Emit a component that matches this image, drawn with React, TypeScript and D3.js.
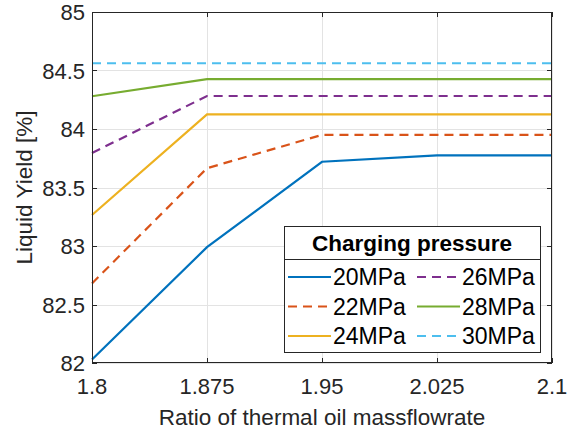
import React, { useEffect, useRef } from 'react';
import * as d3 from 'd3';

// data
const ratios = [1.8, 1.875, 1.95, 2.025, 2.1];
const yield20 = [82.03, 82.99, 83.72, 83.775, 83.775];
const yield22 = [82.68, 83.665, 83.95, 83.95, 83.95];
const yield24 = [83.265, 84.125, 84.125, 84.125, 84.125];
const yield26 = [83.795, 84.282, 84.282, 84.282, 84.282];
const yield28 = [84.28, 84.427, 84.427, 84.427, 84.427];
const yield30 = [84.562, 84.562, 84.562, 84.562, 84.562];
const seriesNames = ['20MPa', '22MPa', '24MPa', '26MPa', '28MPa', '30MPa'];
const xTicks = [1.8, 1.875, 1.95, 2.025, 2.1];
const yTicks = [82, 82.5, 83, 83.5, 84, 84.5, 85];

const colors = ['#0072BD', '#D95319', '#EDB120', '#7E2F8E', '#77AC30', '#4DBEEE'];
const dashed = [false, true, false, true, false, true];

const App: React.FC = () => {
  const svgRef = useRef<SVGSVGElement>(null);

  useEffect(() => {
    const W = 573, H = 432;
    const m = { left: 92, right: 21, top: 12, bottom: 69 };
    const font = 'Arial, "Liberation Sans", Helvetica, sans-serif';
    const axisCol = '#262626';
    const allSeries = [yield20, yield22, yield24, yield26, yield28, yield30];

    const svg = d3.select(svgRef.current).attr('width', W).attr('height', H);
    svg.html('');
    svg.append('rect').attr('width', W).attr('height', H).attr('fill', '#fff');

    const x = d3.scaleLinear().domain([1.8, 2.1]).range([m.left, W - m.right]);
    const y = d3.scaleLinear().domain([82, 85]).range([H - m.bottom, m.top]);
    const [x0, x1] = x.range();
    const [y0, y1] = y.range();

    // grid
    const grid = svg.append('g').attr('stroke', '#e3e3e3').attr('stroke-width', 1);
    grid.selectAll('line.gx').data(xTicks).enter().append('line')
      .attr('x1', d => Math.round(x(d)) + 0.5).attr('x2', d => Math.round(x(d)) + 0.5)
      .attr('y1', y1).attr('y2', y0);
    grid.selectAll('line.gy').data(yTicks).enter().append('line')
      .attr('y1', d => Math.round(y(d)) + 0.5).attr('y2', d => Math.round(y(d)) + 0.5)
      .attr('x1', x0).attr('x2', x1);

    // lines
    const line = d3.line<number>().x((_, i) => x(ratios[i])).y(d => y(d));
    allSeries.forEach((s, i) => {
      svg.append('path')
        .attr('d', line(s)!)
        .attr('fill', 'none')
        .attr('stroke', colors[i])
        .attr('stroke-width', 2.2)
        .attr('stroke-dasharray', dashed[i] ? '9,6' : null);
    });

    // axes box + ticks
    const ax = svg.append('g').attr('stroke', axisCol).attr('stroke-width', 1).attr('fill', 'none');
    ax.append('rect').attr('x', x0 + 0.5).attr('y', y1 + 0.5)
      .attr('width', x1 - x0 - 1).attr('height', y0 - y1 - 1);
    const tl = 5;
    xTicks.forEach(t => {
      const px = Math.round(x(t)) + 0.5;
      ax.append('line').attr('x1', px).attr('x2', px).attr('y1', y0).attr('y2', y0 - tl);
      ax.append('line').attr('x1', px).attr('x2', px).attr('y1', y1).attr('y2', y1 + tl);
    });
    yTicks.forEach(t => {
      const py = Math.round(y(t)) + 0.5;
      ax.append('line').attr('y1', py).attr('y2', py).attr('x1', x0).attr('x2', x0 + tl);
      ax.append('line').attr('y1', py).attr('y2', py).attr('x1', x1).attr('x2', x1 - tl);
    });

    const lbl = svg.append('g').attr('font-family', font).attr('fill', axisCol).attr('font-size', 22);
    lbl.selectAll('text.xt').data(xTicks).enter().append('text')
      .attr('x', d => x(d)).attr('y', y0 + 31).attr('text-anchor', 'middle')
      .text(d => String(d));
    lbl.selectAll('text.yt').data(yTicks).enter().append('text')
      .attr('x', x0 - 7).attr('y', d => y(d) + 8).attr('text-anchor', 'end')
      .text(d => String(d));

    svg.append('text')
      .attr('x', (x0 + x1) / 2).attr('y', 425).attr('text-anchor', 'middle')
      .attr('font-family', font).attr('font-size', 22.5).attr('fill', axisCol)
      .text('Ratio of thermal oil massflowrate');
    svg.append('text')
      .attr('transform', `translate(32,${(y0 + y1) / 2}) rotate(-90)`)
      .attr('text-anchor', 'middle')
      .attr('font-family', font).attr('font-size', 22.5).attr('fill', axisCol)
      .text('Liquid Yield [%]');

    // legend
    const lg = svg.append('g');
    const lx = 284, ly = 226, lw = 256, lh = 126;
    lg.append('rect').attr('x', lx + 0.5).attr('y', ly + 0.5).attr('width', lw).attr('height', lh)
      .attr('fill', '#fff').attr('stroke', axisCol).attr('stroke-width', 1);
    lg.append('line').attr('x1', lx).attr('x2', lx + lw).attr('y1', 259.5).attr('y2', 259.5)
      .attr('stroke', axisCol).attr('stroke-width', 1);
    lg.append('text').attr('x', lx + lw / 2).attr('y', 251).attr('text-anchor', 'middle')
      .attr('font-family', font).attr('font-weight', 'bold').attr('font-size', 22.5).attr('fill', '#000')
      .text('Charging pressure');
    seriesNames.forEach((name, i) => {
      const col = Math.floor(i / 3), row = i % 3;
      const sx = col === 0 ? 288 : 417;
      const sy = 277 + row * 29.5;
      lg.append('line').attr('x1', sx).attr('x2', sx + 43).attr('y1', sy).attr('y2', sy)
        .attr('stroke', colors[i]).attr('stroke-width', 2.2)
        .attr('stroke-dasharray', dashed[i] ? '9,6' : null);
      lg.append('text').attr('x', sx + 45).attr('y', sy + 8)
        .attr('font-family', font).attr('font-size', 23).attr('fill', '#000')
        .text(name);
    });
  }, []);

  return (
    <div style={{ position: 'absolute', left: 0, top: 0 }}>
      <svg ref={svgRef} style={{ display: 'block' }} />
    </div>
  );
};

export default App;
